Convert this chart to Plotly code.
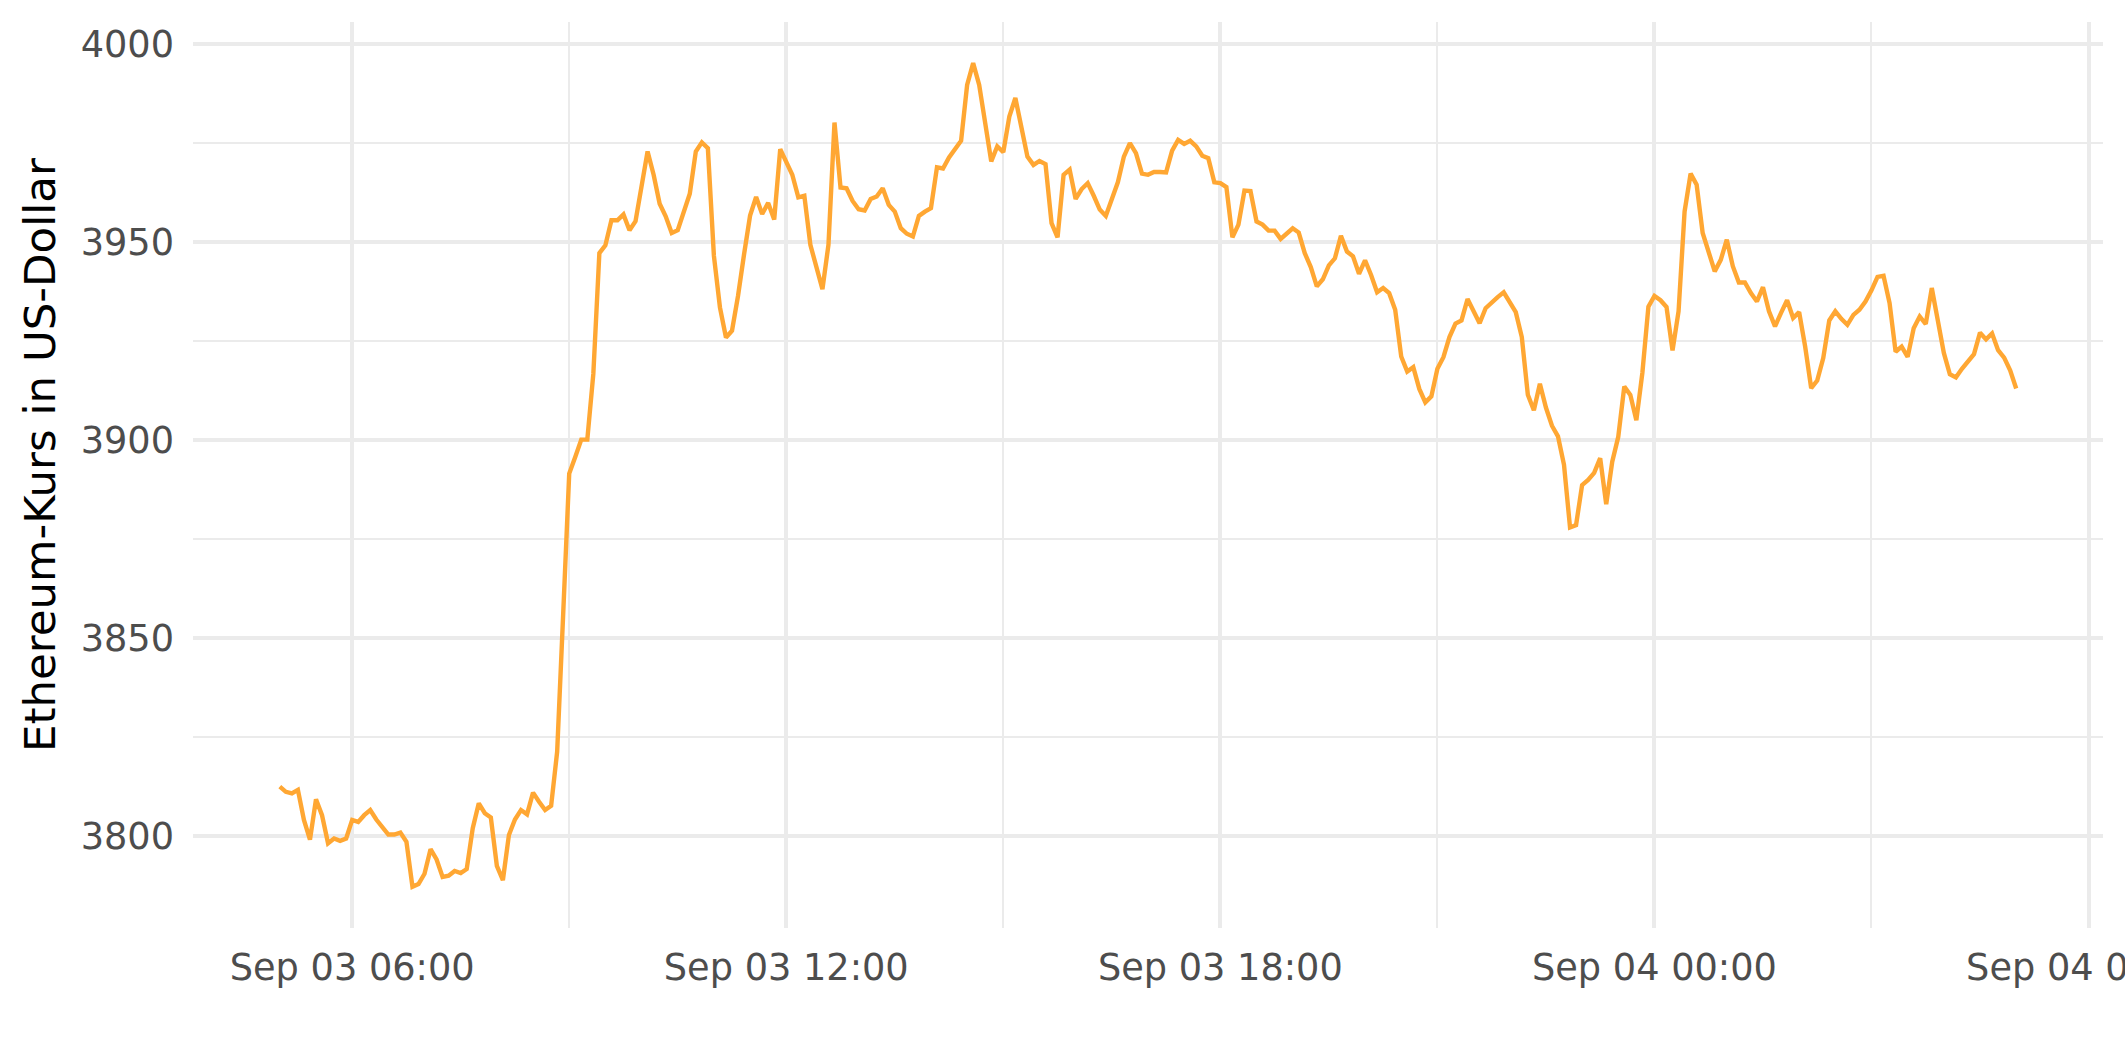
import pandas as pd
import plotly.graph_objects as go

# ---- data (5-minute Ethereum prices) ----
start_time = "2021-09-03 05:00"
interval = "5min"
prices = [
    3812.4, 3811.1, 3810.7, 3811.6, 3804.0, 3799.0, 3809.2, 3805.2, 3798.1, 3799.3,
    3798.7, 3799.3, 3804.0, 3803.5, 3805.2, 3806.5, 3804.1, 3802.3, 3800.3, 3800.3,
    3800.8, 3798.5, 3787.1, 3787.8, 3790.4, 3796.6, 3794.0, 3789.6, 3789.9, 3791.1,
    3790.6, 3791.6, 3801.9, 3808.2, 3805.7, 3804.6, 3792.4, 3788.8, 3800.2, 3804.1,
    3806.5, 3805.4, 3810.9, 3808.6, 3806.5, 3807.6, 3821.2, 3856.0, 3891.5, 3895.7,
    3900.1, 3900.1, 3916.7, 3947.2, 3949.2, 3955.5, 3955.5, 3957.0, 3953.0, 3955.3,
    3963.7, 3972.9, 3967.0, 3959.7, 3956.5, 3952.3, 3953.0, 3957.8, 3962.2, 3972.9,
    3975.2, 3973.7, 3946.5, 3933.5, 3925.9, 3927.6, 3936.4, 3946.9, 3956.7, 3961.4,
    3957.1, 3959.9, 3955.7, 3973.5, 3970.2, 3967.0, 3961.3, 3961.7, 3949.3, 3943.7,
    3938.1, 3949.3, 3980.2, 3963.8, 3963.6, 3960.4, 3958.3, 3958.0, 3960.9, 3961.5,
    3963.6, 3959.4, 3957.7, 3953.5, 3952.1, 3951.4, 3956.6, 3957.7, 3958.6, 3968.9,
    3968.6, 3971.4, 3973.6, 3975.6, 3989.7, 3995.2, 3989.7, 3980.5, 3970.4, 3974.2,
    3972.7, 3981.7, 3986.4, 3979.0, 3971.6, 3969.5, 3970.5, 3969.7, 3954.8, 3951.2,
    3967.0, 3968.3, 3960.9, 3963.4, 3964.9, 3961.7, 3958.2, 3956.6, 3960.9, 3965.1,
    3971.6, 3975.0, 3972.5, 3967.3, 3967.0, 3967.7, 3967.7, 3967.6, 3973.1, 3975.8,
    3974.8, 3975.6, 3974.2, 3971.8, 3971.2, 3965.1, 3964.9, 3963.9, 3951.2, 3954.4,
    3963.0, 3962.9, 3955.2, 3954.4, 3952.9, 3952.9, 3950.8, 3952.1, 3953.5, 3952.4,
    3947.2, 3943.7, 3938.8, 3940.6, 3944.1, 3945.9, 3951.6, 3947.6, 3946.4, 3942.0,
    3945.4, 3941.7, 3937.3, 3938.4, 3937.1, 3932.9, 3921.1, 3917.3, 3918.4, 3912.9,
    3909.5, 3911.0, 3918.0, 3920.9, 3926.0, 3929.4, 3930.2, 3935.6, 3932.5, 3929.5,
    3933.3, 3934.8, 3936.1, 3937.3, 3934.8, 3932.3, 3926.0, 3911.4, 3907.5, 3914.2,
    3908.2, 3903.6, 3900.9, 3893.7, 3877.9, 3878.5, 3888.6, 3889.9, 3891.7, 3895.4,
    3883.8, 3894.5, 3900.8, 3913.5, 3911.4, 3905.0, 3917.0, 3933.7, 3936.4, 3935.3,
    3933.6, 3922.6, 3932.5, 3957.7, 3967.3, 3964.5, 3952.3, 3947.6, 3942.6, 3945.5,
    3950.6, 3943.9, 3939.8, 3939.8, 3937.1, 3935.0, 3938.6, 3932.5, 3928.7, 3932.1,
    3935.3, 3930.8, 3932.3, 3923.6, 3913.1, 3915.0, 3920.7, 3930.2, 3932.5, 3930.6,
    3929.1, 3931.6, 3932.9, 3935.0, 3937.8, 3941.2, 3941.5, 3934.6, 3922.3, 3923.6,
    3921.0, 3928.2, 3931.2, 3929.3, 3938.4, 3930.2, 3922.0, 3916.6, 3915.8, 3918.0,
    3919.7, 3921.7, 3927.1, 3925.4, 3926.9, 3922.7, 3920.8, 3917.6, 3913.0,
]
y_title = "Ethereum-Kurs in US-Dollar"
y_ticks = [3800, 3850, 3900, 3950, 4000]

times = pd.date_range(start_time, periods=len(prices), freq=interval)

# ggplot-like 5% expansion of both scales
t_span = times[-1] - times[0]
x_range = [times[0] - 0.05 * t_span, times[-1] + 0.05 * t_span]
v_min, v_max = min(prices), max(prices)
v_pad = 0.05 * (v_max - v_min)
y_range = [v_min - v_pad, v_max + v_pad]

GRID = "#EBEBEB"
TICK_FONT = dict(family="DejaVu Sans", size=36.7, color="#4D4D4D")

fig = go.Figure(
    go.Scatter(
        x=times,
        y=prices,
        mode="lines",
        line=dict(color="#FFA733", width=4.4),
        hoverinfo="x+y",
    )
)

fig.update_layout(
    width=2125,
    height=1062,
    margin=dict(l=193, r=22, t=22, b=134),
    paper_bgcolor="white",
    plot_bgcolor="white",
    showlegend=False,
    annotations=[
        dict(
            text=y_title,
            textangle=-90,
            xref="paper", yref="paper",
            x=-0.0801, y=0.522,
            xanchor="center", yanchor="middle",
            showarrow=False,
            font=dict(family="DejaVu Sans", size=43.5, color="black"),
        )
    ],
)

fig.update_xaxes(
    type="date",
    range=[x_range[0], x_range[1]],
    tick0="2021-09-03 00:00",
    dtick=6 * 3600 * 1000,
    tickformat="%b %d %H:%M",
    tickfont=TICK_FONT,
    ticks="",
    ticklabelstandoff=14,
    ticklabeloverflow="allow",
    automargin=False,
    showgrid=True,
    gridcolor=GRID,
    gridwidth=4.4,
    minor=dict(dtick=3 * 3600 * 1000, tick0="2021-09-03 00:00",
               showgrid=True, gridcolor=GRID, gridwidth=2.2),
    zeroline=False,
    showline=False,
)

fig.update_yaxes(
    range=y_range,
    tickvals=y_ticks,
    ticktext=[str(v) for v in y_ticks],
    tickfont=TICK_FONT,
    ticks="",
    ticklabelstandoff=18,
    automargin=False,
    showgrid=True,
    gridcolor=GRID,
    gridwidth=4.4,
    minor=dict(dtick=25, tick0=3800, showgrid=True, gridcolor=GRID, gridwidth=2.2),
    zeroline=False,
    showline=False,
)

fig.write_html(
    "out.html",
    config={"displayModeBar": False},
    post_script="document.body.style.margin='0';document.body.style.overflow='hidden';",
)
